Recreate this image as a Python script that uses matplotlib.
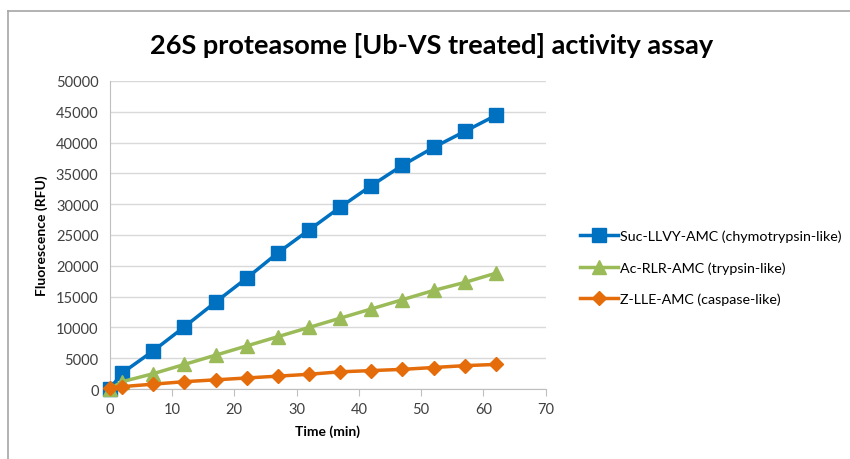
import matplotlib

matplotlib.use("Agg")
import matplotlib.pyplot as plt  # noqa: E402
from matplotlib.lines import Line2D  # noqa: E402

plt.rcParams["font.family"] = ["Lato", "DejaVu Sans"]

TIME_MIN = [0, 2, 7, 12, 17, 22, 27, 32, 37, 42, 47, 52, 57, 62]
SUC_LLVY = [0, 2600, 6200, 10100, 14100, 18000, 22100, 25800, 29500, 33000,
            36300, 39200, 41800, 44400]
AC_RLR = [0, 1200, 2500, 4000, 5500, 7000, 8500, 10000, 11500, 13000,
          14500, 16000, 17300, 18800]
Z_LLE = [200, 400, 800, 1200, 1500, 1800, 2100, 2400, 2800, 3000,
         3200, 3500, 3800, 4000]

SERIES = [
    ("Suc-LLVY-AMC (chymotrypsin-like)", SUC_LLVY, "#0070C0", "s", 10),
    ("Ac-RLR-AMC (trypsin-like)", AC_RLR, "#9BBB59", "^", 10),
    ("Z-LLE-AMC (caspase-like)", Z_LLE, "#E46C0A", "D", 7.5),
]

fig = plt.figure(figsize=(8.5, 4.6), dpi=100)
ax = fig.add_axes([0.129, 0.152, 0.513, 0.670])

for label, values, color, marker, size in SERIES:
    ax.plot(TIME_MIN, values, color=color, marker=marker, markersize=size,
            linewidth=2.5, label=label, clip_on=False, zorder=3)

ax.set_xlim(0, 70)
ax.set_ylim(0, 50000)
ax.set_xticks(range(0, 71, 10))
ax.set_yticks(range(0, 50001, 5000))
ax.grid(axis="y", color="#D9D9D9", linewidth=1)
ax.set_axisbelow(True)
for side in ("top", "right"):
    ax.spines[side].set_visible(False)
for side in ("left", "bottom"):
    ax.spines[side].set_color("#BFBFBF")
ax.tick_params(axis="y", length=0, labelsize=10.5, colors="#404040", pad=8)
ax.tick_params(axis="x", length=5, color="#BFBFBF", labelsize=10.5,
               labelcolor="#404040", pad=4)

ax.set_xlabel("Time (min)", fontsize=10, fontweight="bold", labelpad=6)
ax.set_ylabel("Fluorescence (RFU)", fontsize=10, fontweight="bold", labelpad=6)
fig.text(0.508, 0.9, "26S proteasome [Ub-VS treated] activity assay",
         ha="center", va="center", fontsize=19.5, fontweight="bold")

ax.legend(loc="center left", bbox_to_anchor=(1.05, 0.395), frameon=False,
          fontsize=10.3, handlelength=2.6, labelspacing=1.3, handletextpad=0.2)

# chart frame (left and top edges only visible in the crop)
fig.add_artist(Line2D([0.009, 0.009], [0.0, 0.974], color="#A6A6A6",
                      linewidth=1.2, transform=fig.transFigure))
fig.add_artist(Line2D([0.009, 1.0], [0.974, 0.974], color="#A6A6A6",
                      linewidth=1.2, transform=fig.transFigure))

fig.savefig("out.png", dpi=100)
plt.close(fig)
